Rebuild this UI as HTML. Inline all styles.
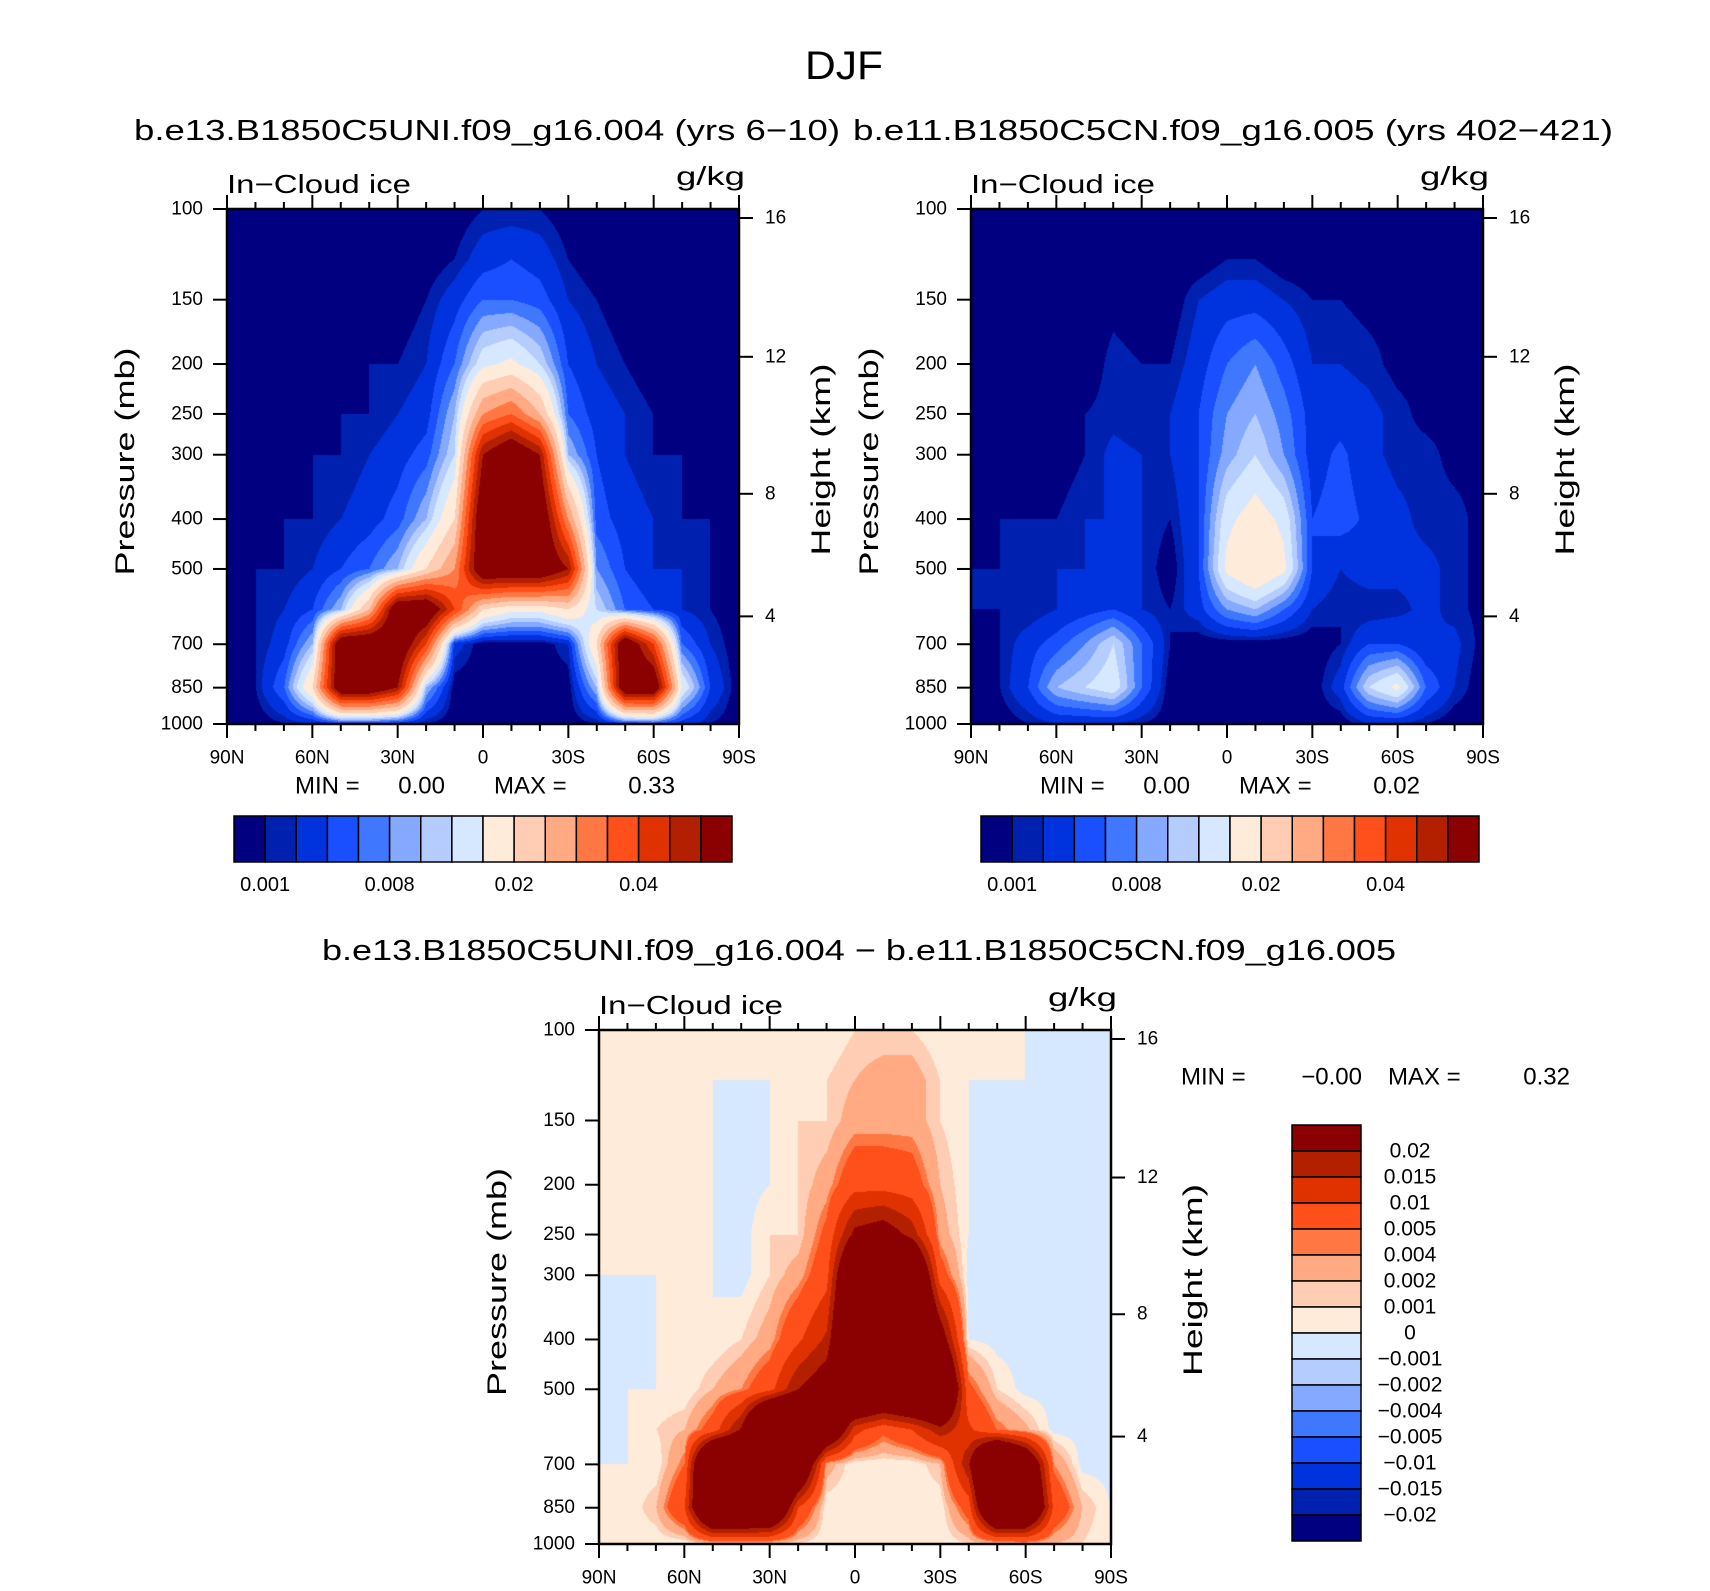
<!DOCTYPE html>
<html><head><meta charset="utf-8">
<style>
html,body{margin:0;padding:0;background:#fff;}
#wrap{position:relative;width:1710px;height:1591px;overflow:hidden;font-family:"Liberation Sans",sans-serif;}
canvas{position:absolute;}
svg{position:absolute;left:0;top:0;}
text{font-family:"Liberation Sans",sans-serif;fill:#000;}
</style></head>
<body>
<div id="wrap">
<canvas id="cA" width="512" height="515" style="left:227px;top:209px"></canvas>
<canvas id="cB" width="512" height="515" style="left:971px;top:209px"></canvas>
<canvas id="cC" width="512" height="514" style="left:599px;top:1030px"></canvas>
<svg id="svg" width="1710" height="1591"></svg>
</div>
<script>
// ---- data ----
const lats = [90,80,70,60,50,40,30,20,10,0,-10,-20,-30,-40,-50,-60,-70,-80,-90];
const levels = [100,125,150,200,250,300,400,500,600,700,850,1000];
const case1 = [
[0,0,0,0,0,0,0,0,0,0.001,0.001,0.001,0,0,0,0,0,0,0],
[0,0,0,0,0,0,0,0,0.001,0.003,0.004,0.003,0.001,0,0,0,0,0,0],
[0,0,0,0,0,0,0,0.001,0.003,0.006,0.006,0.005,0.002,0.001,0,0,0,0,0],
[0,0,0,0,0,0.001,0.001,0.002,0.006,0.014,0.016,0.012,0.004,0.002,0.001,0,0,0,0],
[0,0,0,0,0.001,0.001,0.002,0.003,0.01,0.03,0.035,0.025,0.006,0.003,0.002,0.001,0,0,0],
[0,0,0,0.001,0.001,0.002,0.003,0.005,0.012,0.05,0.06,0.05,0.01,0.004,0.002,0.001,0.001,0,0],
[0,0,0.001,0.001,0.002,0.003,0.005,0.01,0.02,0.06,0.06,0.06,0.03,0.005,0.003,0.002,0.001,0.001,0],
[0,0.001,0.001,0.002,0.004,0.006,0.01,0.02,0.03,0.06,0.06,0.06,0.05,0.008,0.004,0.002,0.002,0.001,0],
[0,0.001,0.002,0.004,0.01,0.025,0.06,0.06,0.04,0.02,0.016,0.016,0.02,0.012,0.006,0.004,0.002,0.001,0],
[0,0.001,0.003,0.01,0.06,0.06,0.06,0.04,0.003,0,0,0,0.002,0.02,0.06,0.04,0.006,0.002,0],
[0,0.001,0.006,0.02,0.06,0.06,0.05,0.01,0,0,0,0,0,0.01,0.06,0.06,0.015,0.004,0],
[0,0,0.001,0.002,0.004,0.004,0.003,0.001,0,0,0,0,0,0.001,0.004,0.005,0.003,0.001,0]
];
const case2 = [
[0,0,0,0,0,0,0,0,0,0,0,0,0,0,0,0,0.0005,0.0005,0.0005],
[0,0,0,0,0,0,0,0,0,0.001,0.001,0,0,0,0,0,0.0005,0.0005,0.0005],
[0,0,0,0,0,0.0005,0,0,0.002,0.003,0.003,0.002,0.001,0.001,0.0005,0.0005,0.0005,0.0005,0.0005],
[0,0,0,0,0,0.0015,0.001,0.001,0.003,0.006,0.008,0.005,0.002,0.002,0.0015,0.0005,0.0005,0.0005,0.0005],
[0,0,0,0,0.001,0.0015,0.001,0.002,0.004,0.008,0.01,0.007,0.003,0.003,0.0025,0.0015,0.0005,0.0005,0.0005],
[0,0,0,0,0.001,0.0025,0.002,0.002,0.004,0.009,0.012,0.008,0.003,0.0045,0.0025,0.0015,0.0015,0.0005,0.0005],
[0,0.001,0.001,0.001,0.002,0.002,0.002,0.001,0.004,0.014,0.017,0.014,0.004,0.005,0.0035,0.0025,0.0015,0.0015,0.0005],
[0.001,0.001,0.001,0.002,0.002,0.002,0.002,0,0.004,0.016,0.02,0.016,0.004,0.002,0.003,0.0025,0.0025,0.0015,0.0005],
[0.001,0.001,0.001,0.002,0.003,0.004,0.002,0.001,0.003,0.008,0.01,0.006,0.002,0.001,0.001,0.0015,0.0025,0.0015,0.0005],
[0,0.001,0.003,0.005,0.008,0.012,0.006,0.001,0,0,0,0,0,0.001,0.004,0.004,0.002,0.0025,0.0005],
[0,0.001,0.004,0.01,0.012,0.014,0.006,0,0,0,0,0,0,0.003,0.012,0.016,0.006,0.002,0],
[0,0,0.001,0.002,0.002,0.002,0.001,0,0,0,0,0,0,0,0.002,0.002,0.001,0,0]
];
const boundsIce = [0.001,0.002,0.004,0.006,0.008,0.01,0.012,0.015,0.02,0.025,0.03,0.035,0.04,0.045,0.05];
const boundsDiff = [-0.02,-0.015,-0.01,-0.005,-0.004,-0.002,-0.001,0,0.001,0.002,0.004,0.005,0.01,0.015,0.02];
const colors = ["#000080","#0020b0","#0033dd","#1a4fff","#3f78ff","#85a9ff","#b5ccff","#d6e8ff","#ffebd9","#ffcdb4","#ffaa82","#ff7844","#ff4f1a","#e03200","#b32000","#8b0000"];
const iceLabels = ["0.001","0.008","0.02","0.04"];
const iceLabelIdx = [0,4,8,12];
const diffLabels = ["0.02","0.015","0.01","0.005","0.004","0.002","0.001","0","\u22120.001","\u22120.002","\u22120.004","\u22120.005","\u22120.01","\u22120.015","\u22120.02"];
const pTicks = [100,150,200,250,300,400,500,700,850,1000];
const latTicks = ["90N","60N","30N","0","30S","60S","90S"];
const kmTicks = ["16","12","8","4"];
const kmFrac = [0.0175,0.287,0.553,0.791];

// ---- helpers ----
const diff = case1.map((r,i)=>r.map((v,j)=>v-case2[i][j]));
function rgb(h){return [parseInt(h.substr(1,2),16),parseInt(h.substr(3,2),16),parseInt(h.substr(5,2),16)];}
const crgb = colors.map(rgb);
function classify(v,b){let k=0;while(k<b.length && v>=b[k]-1e-12)k++;return k;}
const logLev = levels.map(p=>Math.log10(p));
function sample(f,fx,lp){
  const x=fx*(lats.length-1);let i=Math.min(Math.floor(x),lats.length-2);const tx=x-i;
  let j=0;while(j<levels.length-2 && lp>logLev[j+1])j++;
  const ty=Math.max(0,Math.min(1,(lp-logLev[j])/(logLev[j+1]-logLev[j])));
  const a=f[j][i]*(1-tx)+f[j][i+1]*tx, b=f[j+1][i]*(1-tx)+f[j+1][i+1]*tx;
  return a*(1-ty)+b*ty;
}
function render(id,f,b){
  const c=document.getElementById(id),ctx=c.getContext('2d');
  const W=c.width,H=c.height,img=ctx.createImageData(W,H);
  for(let y=0;y<H;y++){const lp=2+y/(H-1);
    for(let x=0;x<W;x++){const v=sample(f,x/(W-1),lp);const col=crgb[classify(v,b)];
      const o=(y*W+x)*4;img.data[o]=col[0];img.data[o+1]=col[1];img.data[o+2]=col[2];img.data[o+3]=255;}}
  ctx.putImageData(img,0,0);
}
render('cA',case1,boundsIce);render('cB',case2,boundsIce);render('cC',diff,boundsDiff);

const NS='http://www.w3.org/2000/svg',svg=document.getElementById('svg');
function el(tag,attrs,txt){const e=document.createElementNS(NS,tag);for(const k in attrs)e.setAttribute(k,attrs[k]);if(txt!==undefined)e.textContent=txt;svg.appendChild(e);return e;}
function txt(x,y,s,size,anchor,len,name){const t=el('text',{x:x,y:y,'font-size':size,'text-anchor':anchor||'start','dominant-baseline':'central'},s);
  if(len){t.setAttribute('textLength',len);t.setAttribute('lengthAdjust','spacingAndGlyphs');}
  
  return t;}

function panel(L,T,W,H,tag){
  const R=L+W,B=T+H;
  const fr=el('rect',{x:L,y:T,width:W,height:H,fill:'none',stroke:'#000','stroke-width':2.5});
  
  
  for(let d=0;d<=18;d++){const x=L+d/18*W,maj=d%3===0,len=maj?14:7;
    const t1=el('line',{x1:x,y1:T,x2:x,y2:T-len,stroke:'#000','stroke-width':2});
    
    
    const t2=el('line',{x1:x,y1:B,x2:x,y2:B+len,stroke:'#000','stroke-width':2});
    
    }
  latTicks.forEach((s,i)=>txt(L+i/6*W,B+34,s,19,'middle',null,tag+'-x-tick-label'));
  pTicks.forEach(p=>{const y=T+Math.log10(p/100)*H;
    const t=el('line',{x1:L,y1:y,x2:L-14,y2:y,stroke:'#000','stroke-width':2});
    
    
    txt(L-24,y,String(p),19,'end',null,tag+'-y-tick-label');});
  kmTicks.forEach((s,i)=>{const y=T+kmFrac[i]*H;
    const t=el('line',{x1:R,y1:y,x2:R+14,y2:y,stroke:'#000','stroke-width':2});
    
    
    txt(R+26,y,s,19,'start',null,tag+'-km-tick-label');});
  txt(L,T-25,'In\u2212Cloud ice',26,'start',184,tag+'-variable-label');
  txt(R+6,T-33,'g/kg',26,'end',69,tag+'-units-label');
  const mid=T+H*0.5;
  const pt=txt(0,0,'Pressure (mb)',27,'middle',228,tag+'-y-axis-title');
  pt.setAttribute('transform','translate('+(L-102)+','+(mid-5)+') rotate(-90)');
  const ht=txt(0,0,'Height (km)',27,'middle',192,tag+'-km-axis-title');
  ht.setAttribute('transform','translate('+(R+82)+','+(mid-7)+') rotate(-90)');
}
panel(227,209,512,515,'case1');
panel(971,209,512,515,'case2');
panel(599,1030,512,514,'diff');

function hbar(x,y,w,h,tag){const bw=w/16;
  colors.forEach((c,i)=>{const r=el('rect',{x:x+i*bw,y:y,width:bw,height:h,fill:c,stroke:'#000','stroke-width':1.5});
    
    });
  iceLabels.forEach((s,k)=>txt(x+(iceLabelIdx[k]+1)*bw,y+h+23,s,20,'middle',null,tag+'-colorbar-label'));
}
hbar(234,816,498,46,'case1');
hbar(981,816,498,46,'case2');
(function(){const x=1292,y=1125,w=69,bh=26;
  colors.slice().reverse().forEach((c,i)=>{const r=el('rect',{x:x,y:y+i*bh,width:w,height:bh,fill:c,stroke:'#000','stroke-width':1.5});
    
    });
  diffLabels.forEach((s,i)=>txt(1410,y+(i+1)*bh,s,21,'middle',null,'diff-colorbar-label'));
})();

txt(844,66,'DJF',40,'middle',78,'figure-title');
txt(487,131,'b.e13.B1850C5UNI.f09_g16.004 (yrs 6\u221210)',29,'middle',706,'case1-title');
txt(1233,131,'b.e11.B1850C5CN.f09_g16.005 (yrs 402\u2212421)',29,'middle',760,'case2-title');
txt(859,951,'b.e13.B1850C5UNI.f09_g16.004 \u2212 b.e11.B1850C5CN.f09_g16.005',29,'middle',1074,'diff-title');
function minmax(x,y,a,b,tag){txt(x,y,'MIN =',24,'start',null,tag+'-min-label');txt(x+150,y,a,24,'end',null,tag+'-min-value');
  txt(x+199,y,'MAX =',24,'start',null,tag+'-max-label');txt(x+380,y,b,24,'end',null,tag+'-max-value');}
minmax(295,786,'0.00','0.33','case1');
minmax(1040,786,'0.00','0.02','case2');
txt(1181,1077,'MIN =',24,'start',null,'diff-min-label');
txt(1362,1077,'\u22120.00',24,'end',null,'diff-min-value');
txt(1388,1077,'MAX =',24,'start',null,'diff-max-label');
txt(1570,1077,'0.32',24,'end',null,'diff-max-value');
</script>
</body></html>
